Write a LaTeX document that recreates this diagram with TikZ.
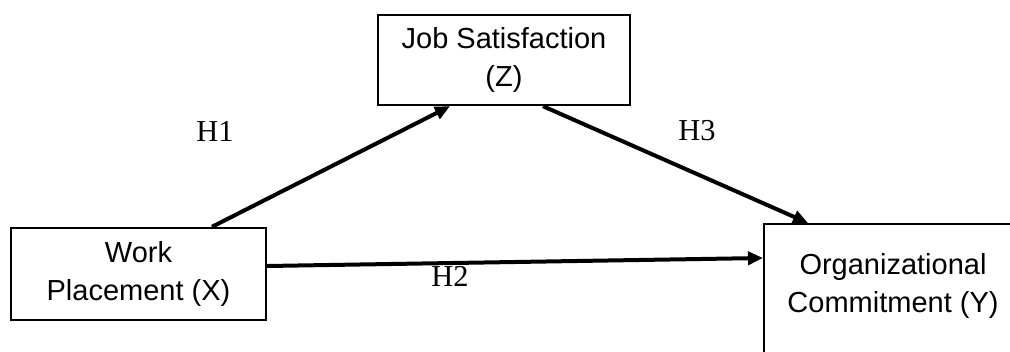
\documentclass[tikz,border=0pt]{standalone}
\usepackage{fontspec}
\setmainfont{Liberation Serif}
\newfontfamily\boxfont{Liberation Sans}
\usepackage{tikz}
\usetikzlibrary{arrows.meta,positioning,calc}

\begin{document}
\begin{tikzpicture}[
  x=0.5pt, y=-0.5pt,
  box/.style={draw, line width=1.2pt, align=center, inner sep=0pt, font=\boxfont\fontsize{14.5}{19}\selectfont},
  txt/.style={align=center, inner sep=0pt, font=\boxfont\fontsize{14.5}{19}\selectfont},
  hyp/.style={font=\fontsize{15.2}{17}\selectfont, inner sep=0pt},
  arrow/.style={-{Triangle[length=7.5pt,width=6.5pt]}, line width=2pt}
]
\useasboundingbox (0,0) rectangle (1010,352);
\clip (0,0) rectangle (1010,352);

\node[box, minimum width=127.5pt, minimum height=46pt] (x) at (138.5,274) {Work\\Placement (X)};
\node[box, minimum width=126pt, minimum height=45pt] (z) at (504,60) {Job Satisfaction\\(Z)};
\node[box, anchor=north west, minimum width=150pt, minimum height=80pt] (y) at (763,223) {};
\node[txt] (ytext) at ($(y.north west)+(130,63)$) {Organizational\\Commitment (Y)};

\draw[arrow] ([xshift=36.75pt]x.north) -- ([xshift=-27pt]z.south);
\draw[arrow] ([xshift=19.5pt]z.south) -- ([xshift=22.5pt]y.north west);
\draw[arrow] ([yshift=4pt]x.east) -- ([yshift=-17.5pt]y.north west);

\node[hyp] (h1) at (215,131) {H1};
\node[hyp] (h3) at (697,131) {H3};
\node[hyp] (h2) at (450,276) {H2};

\end{tikzpicture}
\end{document}
